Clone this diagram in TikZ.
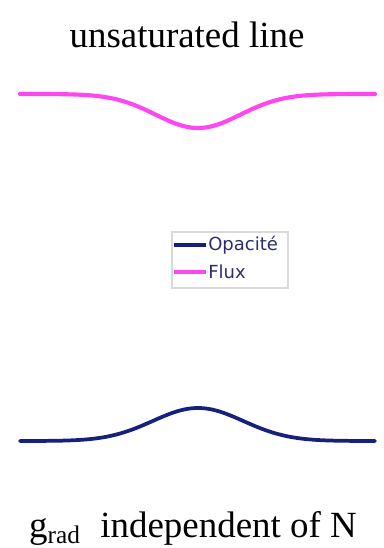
\documentclass[tikz,border=0pt]{standalone}
\usepackage{fontspec}
\setmainfont{Liberation Serif}
\newfontfamily\legendfont{DejaVu Sans}
\usepackage{tikz}
\usetikzlibrary{positioning}

\definecolor{fluxpink}{RGB}{255,70,240}
\definecolor{opablue}{RGB}{22,32,125}
\definecolor{legendtext}{RGB}{45,45,105}

\begin{document}
\begin{tikzpicture}[x=0.75pt, y=-0.75pt,
  caption/.style={font=\fontsize{27.7}{30}\selectfont, anchor=base, inner sep=0pt},
  fluxline/.style={draw=fluxpink, line width=3.1pt, line cap=round},
  opaline/.style={draw=opablue, line width=2.8pt, line cap=round},
  legendbox/.style={draw=black!15, line width=0.8pt, minimum width=87pt, minimum height=42pt, inner sep=0pt},
  entry/.style={font=\legendfont\fontsize{13.5}{15}\selectfont, text=legendtext, anchor=west, inner sep=0pt}]

  \useasboundingbox (0,0) rectangle (384,548);

  \node (top) [caption] at (187,48) {unsaturated line};
  \node (bottom) [caption] at (193,537) {g\raisebox{-0.18em}{\fontsize{19}{20}\selectfont rad}\hspace{0.3em} independent of N};

  % flux profile: absorption dip
  \draw [fluxline] plot[domain=20:375, samples=150] (\x, {94+34*exp(-((\x-198)/60)^2)});
  % opacity profile: bump
  \draw [opaline] plot[domain=20:375, samples=150] (\x, {441-33*exp(-((\x-198)/64)^2)});

  % legend
  \node (legend) [legendbox] at (230,260) {};
  \coordinate (opaA) at (174,245);
  \coordinate (opaB) at (206,245);
  \coordinate (fluxA) at (174,272);
  \coordinate (fluxB) at (206,272);
  \draw [opablue, line width=2.4pt] (opaA) -- (opaB);
  \draw [fluxpink, line width=2.4pt] (fluxA) -- (fluxB);
  \node (opa) [entry, right=1.5pt of opaB] {Opacité};
  \node (flux) [entry, right=1.5pt of fluxB] {Flux};
\end{tikzpicture}
\end{document}
